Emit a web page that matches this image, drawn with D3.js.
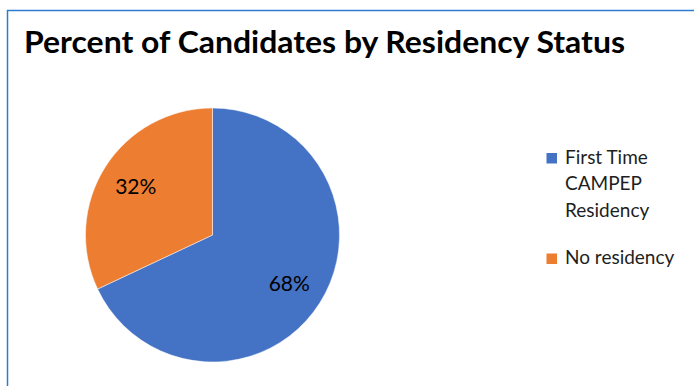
<!DOCTYPE html>
<html>
<head>
<meta charset="utf-8">
<script src="https://cdn.jsdelivr.net/npm/d3@7"></script>
<style>
  body { margin: 0; background: #fff; }
  text { font-family: Lato, "Open Sans", sans-serif; }
</style>
</head>
<body>
<div id="chart"></div>
<script>
let categories = ["First Time CAMPEP Residency", "No residency"];
let legendLines = [["First Time", "CAMPEP", "Residency"], ["No residency"]];
let values = [68, 32];
let colors = ["#4472c4", "#ed7d31"];

let width = 694;
let height = 386;

let svg = d3.select("#chart").append("svg")
  .attr("width", width)
  .attr("height", height);

// chart frame
svg.append("path")
  .attr("d", "M7.5,386 L7.5,10.5 L694,10.5")
  .attr("fill", "none")
  .attr("stroke", "#2e7bd1")
  .attr("stroke-width", 1.5);

svg.append("text")
  .attr("x", 24)
  .attr("y", 53)
  .attr("font-size", 31)
  .attr("font-weight", "bold")
  .attr("fill", "#000")
  .attr("textLength", 601)
  .attr("lengthAdjust", "spacingAndGlyphs")
  .text("Percent of Candidates by Residency Status");

let radius = 127;
let g = svg.append("g").attr("transform", "translate(212.5,235)");

let pie = d3.pie().sort(null).value((d) => d);
let arc = d3.arc().innerRadius(0).outerRadius(radius);
let labelArc = d3.arc().innerRadius(radius * 0.716).outerRadius(radius * 0.716);

let slices = pie(values);

g.selectAll("path")
  .data(slices)
  .enter()
  .append("path")
  .attr("d", arc)
  .attr("fill", (d, i) => colors[i])
  .attr("stroke", "#fff")
  .attr("stroke-width", 0.5);

g.selectAll("text")
  .data(slices)
  .enter()
  .append("text")
  .attr("transform", (d) => "translate(" + labelArc.centroid(d) + ")")
  .attr("text-anchor", "middle")
  .attr("dy", "0.36em")
  .attr("font-size", 21)
  .attr("fill", "#000")
  .text((d) => d.data + "%");

// legend
let legendY = [163.5, 264];
let legend = svg.append("g");

categories.forEach((c, i) => {
  legend.append("rect")
    .attr("x", 546.5)
    .attr("y", legendY[i] - 10.5)
    .attr("width", 10.5)
    .attr("height", 10.5)
    .attr("fill", colors[i]);

  let t = legend.append("text")
    .attr("x", 565)
    .attr("y", legendY[i])
    .attr("font-size", 19)
    .attr("fill", "#1e1e1e");
  legendLines[i].forEach((line, j) => {
    t.append("tspan")
      .attr("x", 565)
      .attr("dy", j == 0 ? 0 : 26.7)
      .text(line);
  });
});
</script>
</body>
</html>
